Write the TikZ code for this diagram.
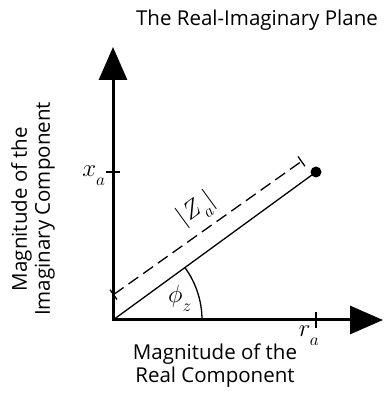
\documentclass[tikz,border=0pt]{standalone}
\usepackage{fontspec}
\setmainfont{Open Sans}
\usetikzlibrary{arrows.meta,calc}
\newcommand{\lowsub}[1]{_{\raisebox{-5pt}{$\scriptstyle #1$}}}

\begin{document}
\begin{tikzpicture}[x=1pt,y=1pt,
    axis/.style={line width=3pt,line join=miter,
      {Triangle[length=33pt,width=28pt]}-{Triangle[length=33pt,width=28pt]}},
    tick/.style={line width=1.5pt},
    thin line/.style={line width=1.3pt},
    lbl/.style={font=\fontsize{20.5}{23}\selectfont,align=center},
    sym/.style={font=\fontsize{24}{28}\selectfont,inner sep=0pt}]
    \useasboundingbox (0,0) rectangle (388,401);

    \coordinate (O) at (113,81);
    \coordinate (ytip) at (113,354);
    \coordinate (xtip) at (383,81);
    \coordinate (P) at (316,229);
    \coordinate (xa) at (113,229);
    \coordinate (ra) at (316,81);
    \coordinate (d1) at (113,106);
    \coordinate (d2) at (302,240);

    \draw[axis] (ytip) -- (O) -- (xtip);
    \draw[tick] ($(xa)+(-7,0)$) -- ($(xa)+(7,0)$);
    \draw[tick] ($(ra)+(0,-8)$) -- ($(ra)+(0,8)$);

    \draw[thin line] (O) -- (P);
    \fill (P) circle (5.5);
    \draw[thin line,dash pattern=on 12pt off 6pt,
      {Bar[width=12pt]}-{Bar[width=12pt]}] (d1) -- (d2);
    \draw[thin line] ($(O)+(89,0)$) arc[start angle=0,end angle=36,radius=89];

    \node[sym] (phi) at (180,103) {$\phi\lowsub{z}$};
    \node[sym,rotate=36] (zmag) at (197,191) {$|Z\lowsub{a}|$};
    \node[sym] (xlab) at (94,225) {$x\lowsub{a}$};
    \node[sym] (rlab) at (309,65) {$r\lowsub{a}$};

    \node[lbl] (title) at (257,381) {The Real-Imaginary Plane};
    \node[lbl] (reallab) at (215,35) {Magnitude of the\\Real Component};
    \node[lbl,rotate=90] (imaglab) at (33,192) {Magnitude of the\\Imaginary Component};
\end{tikzpicture}
\end{document}
